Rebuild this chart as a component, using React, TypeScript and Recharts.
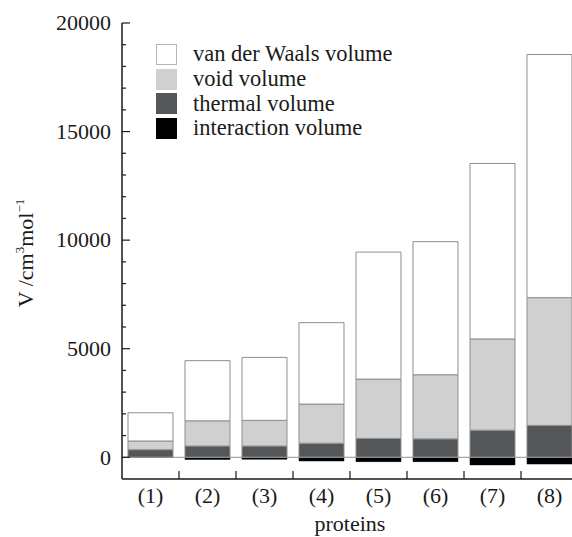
import React from 'react';
import { BarChart, Bar, XAxis, YAxis, ReferenceLine } from 'recharts';

// values (cm3/mol)
const proteins = ['(1)', '(2)', '(3)', '(4)', '(5)', '(6)', '(7)', '(8)'];
const interactionVolume = [-10, -100, -90, -170, -200, -200, -350, -310];
const thermalVolume = [350, 520, 520, 650, 870, 850, 1250, 1470];
const voidVolume = [400, 1160, 1180, 1800, 2730, 2950, 4200, 5880];
const vdwVolume = [1300, 2770, 2900, 3750, 5850, 6130, 8080, 11200];

const yMajorTicks = [0, 5000, 10000, 15000, 20000];
const yMinorTicks = [1000, 2000, 3000, 4000, 6000, 7000, 8000, 9000, 11000, 12000, 13000, 14000, 16000, 17000, 18000, 19000];

const data = proteins.map((name, i) => ({
  name,
  interaction: interactionVolume[i],
  thermal: thermalVolume[i],
  void: voidVolume[i],
  vdw: vdwVolume[i],
}));

const FONT = '"Liberation Serif", "Times New Roman", serif';
const AXIS = '#1a1a1a';
const EDGE = '#8f8f8f';

const legendItems = [
  { label: 'van der Waals volume', fill: '#ffffff', border: '#b5b5b5' },
  { label: 'void volume', fill: '#d0d0d0', border: '#d0d0d0' },
  { label: 'thermal volume', fill: '#54575a', border: '#54575a' },
  { label: 'interaction volume', fill: '#000000', border: '#000000' },
];

const YTick = (props: any) => {
  const { x, y, payload } = props;
  const major = yMajorTicks.includes(payload.value);
  return (
    <g>
      <line x1={x} x2={x + (major ? 8 : 4)} y1={y} y2={y} stroke={AXIS} strokeWidth={1.2} />
      {major && (
        <text x={x - 11} y={y} dy="0.33em" textAnchor="end" fontSize={22} fontFamily={FONT} fill={AXIS}>
          {payload.value}
        </text>
      )}
    </g>
  );
};

const BottomTick = (props: any) => {
  const { x, y, payload, index } = props;
  const edge = x - (payload.offset || 0);
  return (
    <g>
      {index > 0 && <line x1={edge} x2={edge} y1={y} y2={y - 8} stroke={AXIS} strokeWidth={1.2} />}
      <text x={x} y={y + 24} textAnchor="middle" fontSize={22} fontFamily={FONT} fill={AXIS}>
        {payload.value}
      </text>
    </g>
  );
};

const TopTick = (props: any) => {
  const { x, y, payload, index } = props;
  const edge = x - (payload.offset || 0);
  if (index === 0) return <g />;
  return <line x1={edge} x2={edge} y1={y} y2={y + 8} stroke={AXIS} strokeWidth={1.2} />;
};

const YLabel = () => {
  const cx = 25;
  const cy = 253;
  return (
    <text
      x={cx}
      y={cy}
      transform={`rotate(-90, ${cx}, ${cy})`}
      textAnchor="middle"
      dy="0.35em"
      fontSize={22}
      fontFamily={FONT}
      fill={AXIS}
    >
      V /cm
      <tspan fontSize={13} dy={-9}>3</tspan>
      <tspan dy={9}>mol</tspan>
      <tspan fontSize={13} dy={-9}>−1</tspan>
    </text>
  );
};

const XLabel = () => (
  <text x={350} y={531} textAnchor="middle" fontSize={22} fontFamily={FONT} fill={AXIS}>
    proteins
  </text>
);

const LegendBox = () => (
  <div style={{ position: 'absolute', left: 156, top: 42, fontFamily: FONT, fontSize: 22.5, color: AXIS }}>
    {legendItems.map((item) => (
      <div key={item.label} style={{ display: 'flex', alignItems: 'center', height: 24.7 }}>
        <div
          style={{
            width: 19,
            height: 19,
            boxSizing: 'content-box',
            background: item.fill,
            border: `1px solid ${item.border}`,
            marginRight: 16,
          }}
        />
        <span style={{ lineHeight: '24px', whiteSpace: 'nowrap' }}>{item.label}</span>
      </div>
    ))}
  </div>
);

export default function App() {
  return (
    <div
      style={{
        position: 'absolute',
        left: 0,
        top: 0,
        width: 572,
        height: 537,
        overflow: 'hidden',
        background: '#fff',
        fontFamily: FONT,
      }}
    >
      <BarChart
        width={600}
        height={537}
        data={data}
        stackOffset="sign"
        barCategoryGap="10.5%"
        margin={{ top: 23, right: 22, bottom: 0, left: 0 }}
      >
        <XAxis
          xAxisId="main"
          dataKey="name"
          height={58}
          tickLine={false}
          tickSize={0}
          tickMargin={0}
          interval={0}
          axisLine={{ stroke: AXIS, strokeWidth: 1.5 }}
          tick={<BottomTick />}
          label={() => <XLabel />}
        />
        <XAxis
          xAxisId="top"
          orientation="top"
          dataKey="name"
          height={0}
          tickLine={false}
          tickSize={0}
          tickMargin={0}
          interval={0}
          axisLine={{ stroke: AXIS, strokeWidth: 1.5 }}
          tick={<TopTick />}
        />
        <YAxis
          type="number"
          width={122}
          domain={[-1000, 20000]}
          ticks={[...yMajorTicks, ...yMinorTicks].sort((a, b) => a - b)}
          interval={0}
          allowDataOverflow
          tickLine={false}
          tickSize={0}
          tickMargin={0}
          axisLine={{ stroke: AXIS, strokeWidth: 1.5 }}
          tick={<YTick />}
          label={() => <YLabel />}
        />
        <ReferenceLine xAxisId="main" y={0} stroke={EDGE} strokeWidth={1} />
        <Bar xAxisId="main" dataKey="interaction" stackId="v" fill="#000000" stroke="#000000" strokeWidth={0.5} isAnimationActive={false} />
        <Bar xAxisId="main" dataKey="thermal" stackId="v" fill="#54575a" stroke={EDGE} strokeWidth={1} isAnimationActive={false} />
        <Bar xAxisId="main" dataKey="void" stackId="v" fill="#d0d0d0" stroke={EDGE} strokeWidth={1} isAnimationActive={false} />
        <Bar xAxisId="main" dataKey="vdw" stackId="v" fill="#ffffff" stroke={EDGE} strokeWidth={1} isAnimationActive={false} />
      </BarChart>
      <LegendBox />
    </div>
  );
}
